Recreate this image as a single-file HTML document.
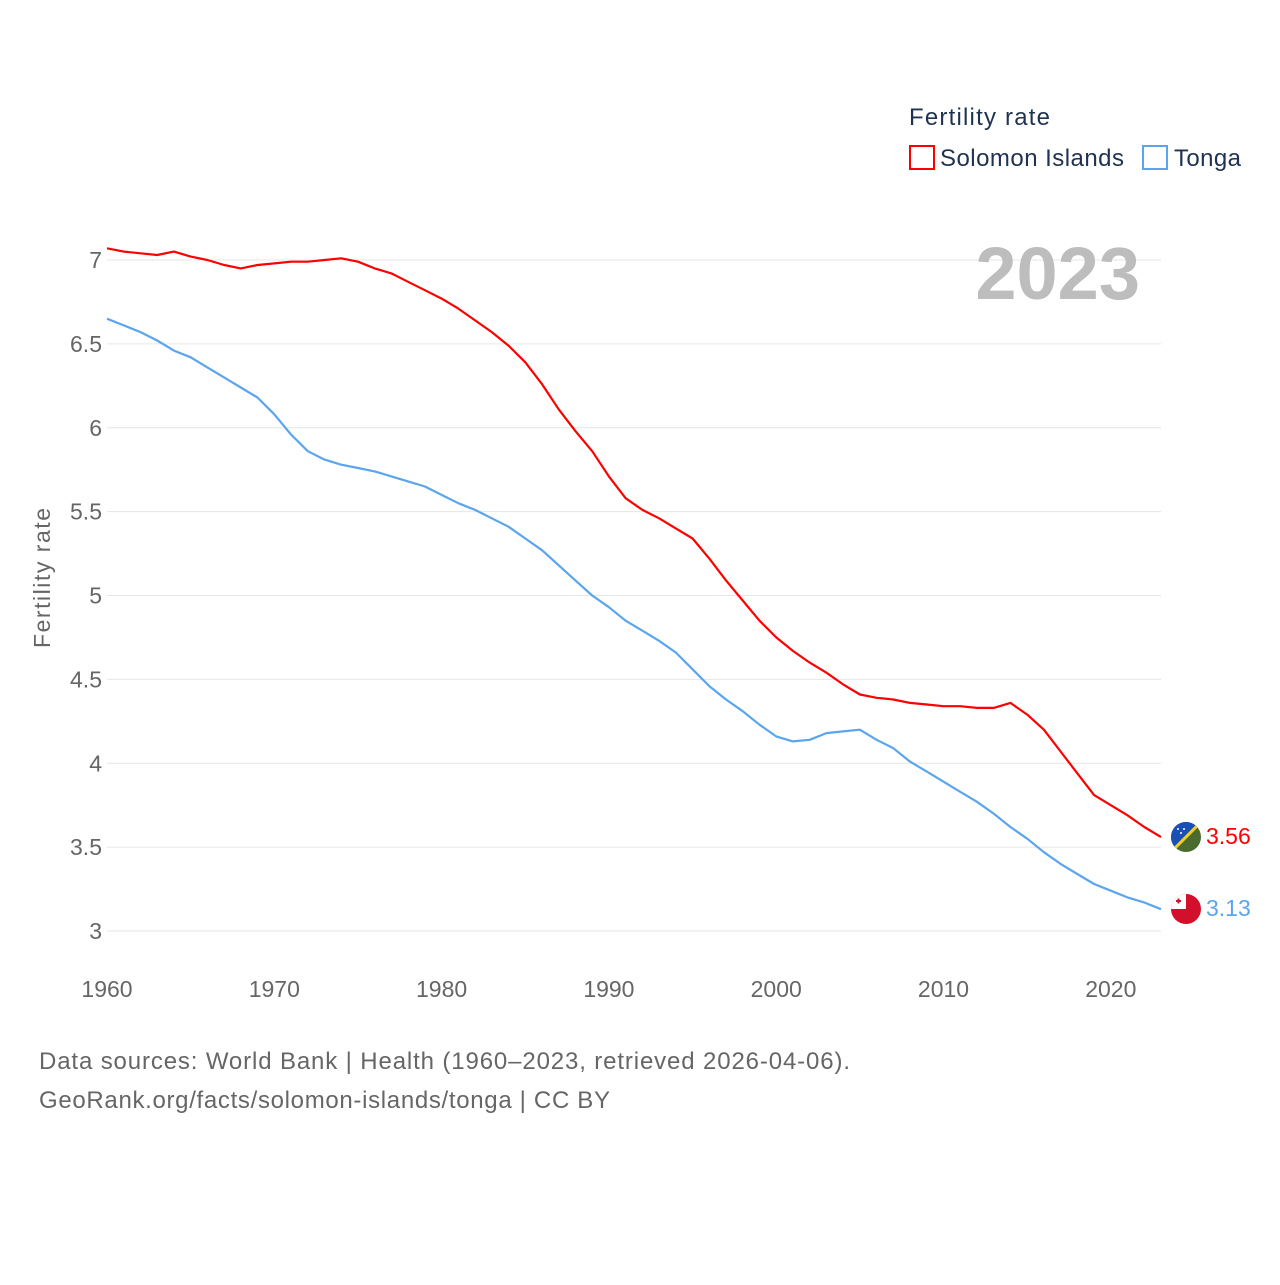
<!DOCTYPE html>
<html><head><meta charset="utf-8"><style>
body{margin:0;background:#fff;font-family:"Liberation Sans",sans-serif;}
svg text{font-family:"Liberation Sans",sans-serif;}
</style></head><body>
<svg id="chart" width="1280" height="1280" xmlns="http://www.w3.org/2000/svg">
<g id="grid"></g>
<g id="yticks"></g>
<g id="xticks"></g>
<text x="0" y="0" transform="translate(50,578) rotate(-90)" text-anchor="middle" font-size="23" fill="#666" textLength="140" lengthAdjust="spacing">Fertility rate</text>
<text x="1140" y="299" text-anchor="end" font-size="74" font-weight="bold" fill="#bdbdbd">2023</text>
<g>
<text x="909" y="125" font-size="24" fill="#1f3350" textLength="141" lengthAdjust="spacing">Fertility rate</text>
<g><rect x="910" y="146" width="24" height="23" fill="none" stroke="#ff0000" stroke-width="2"/><text x="940" y="166" font-size="24" fill="#1f3350" textLength="184" lengthAdjust="spacing">Solomon Islands</text></g>
<g><rect x="1143" y="146" width="24" height="23" fill="none" stroke="#5aa5ee" stroke-width="2"/><text x="1174" y="166" font-size="24" fill="#1f3350" textLength="67" lengthAdjust="spacing">Tonga</text></g>
</g>
<g id="series"></g>
<g>
<clipPath id="c1"><circle cx="1186" cy="837" r="15"/></clipPath>
<g clip-path="url(#c1)"><rect x="1171" y="822" width="30" height="30" fill="#4a6a2e"/><polygon points="1171,822 1201,822 1171,852" fill="#1a4fb5"/><line x1="1171" y1="852" x2="1201" y2="822" stroke="#f2d020" stroke-width="3"/><circle cx="1178" cy="829" r="1" fill="#fff"/><circle cx="1184" cy="829" r="1" fill="#fff"/><circle cx="1181" cy="833" r="1" fill="#fff"/></g></g>
<g>
<clipPath id="c2"><circle cx="1186" cy="909" r="15"/></clipPath>
<g clip-path="url(#c2)"><rect x="1171" y="894" width="30" height="30" fill="#d2102c"/><rect x="1171" y="894" width="15" height="15" fill="#fff"/><rect x="1176" y="900" width="5" height="2" fill="#d2102c"/><rect x="1177.5" y="898.5" width="2" height="5" fill="#d2102c"/></g></g>
<text x="1206" y="844" font-size="23" fill="#ff0000">3.56</text>
<text x="1206" y="916" font-size="23" fill="#5aa5ee">3.13</text>
<text x="39" y="1069" font-size="24" fill="#666" textLength="811" lengthAdjust="spacing">Data sources: World Bank | Health (1960–2023, retrieved 2026-04-06).</text>
<text x="39" y="1108" font-size="24" fill="#666" textLength="571" lengthAdjust="spacing">GeoRank.org/facts/solomon-islands/tonga | CC BY</text>
</svg>
<script>
const years=[];for(let y=1960;y<=2023;y++)years.push(y);
const solomon=[7.07,7.05,7.04,7.03,7.05,7.02,7.00,6.97,6.95,6.97,6.98,6.99,6.99,7.00,7.01,6.99,6.95,6.92,6.87,6.82,6.77,6.71,6.64,6.57,6.49,6.39,6.26,6.11,5.98,5.86,5.71,5.58,5.51,5.46,5.40,5.34,5.22,5.09,4.97,4.85,4.75,4.67,4.60,4.54,4.47,4.41,4.39,4.38,4.36,4.35,4.34,4.34,4.33,4.33,4.36,4.29,4.20,4.07,3.94,3.81,3.75,3.69,3.62,3.56];
const tonga=[6.65,6.61,6.57,6.52,6.46,6.42,6.36,6.30,6.24,6.18,6.08,5.96,5.86,5.81,5.78,5.76,5.74,5.71,5.68,5.65,5.60,5.55,5.51,5.46,5.41,5.34,5.27,5.18,5.09,5.00,4.93,4.85,4.79,4.73,4.66,4.56,4.46,4.38,4.31,4.23,4.16,4.13,4.14,4.18,4.19,4.20,4.14,4.09,4.01,3.95,3.89,3.83,3.77,3.70,3.62,3.55,3.47,3.40,3.34,3.28,3.24,3.20,3.17,3.13];
const yTickValues=[3,3.5,4,4.5,5,5.5,6,6.5,7];
const yTickLabels=["3","3.5","4","4.5","5","5.5","6","6.5","7"];
const xTickValues=[1960,1970,1980,1990,2000,2010,2020];
const NS="http://www.w3.org/2000/svg";
const xS=v=>107+(v-1960)*(1161-107)/63;
const yS=v=>931-(v-3)*(931-260)/4;
function mk(t,a,p){const e=document.createElementNS(NS,t);for(const k in a)e.setAttribute(k,a[k]);p.appendChild(e);return e;}
const grid=document.getElementById('grid'),yt=document.getElementById('yticks'),xt=document.getElementById('xticks'),ser=document.getElementById('series');
yTickValues.forEach((v,i)=>{
 const l=mk('line',{x1:107,x2:1161,y1:yS(v),y2:yS(v),stroke:'#e6e6e6','stroke-width':1},grid);
 
 
 const t=mk('text',{x:102,y:yS(v)+8,'text-anchor':'end','font-size':23,fill:'#666'},yt);
 
 
 t.textContent=yTickLabels[i];
});
xTickValues.forEach(v=>{
 const t=mk('text',{x:xS(v),y:997,'text-anchor':'middle','font-size':23,fill:'#666'},xt);
 
 
 t.textContent=v;
});
function line(data,color,name){
 const d=data.map((v,i)=>(i?'L':'M')+xS(years[i]).toFixed(1)+','+yS(v).toFixed(1)).join('');
 const p=mk('path',{d:d,fill:'none',stroke:color,'stroke-width':2.2,'stroke-linejoin':'round'},ser);
 
 
}
line(tonga,'#5aa5ee','line-tonga');
line(solomon,'#ff0000','line-solomon-islands');
</script>
</body></html>
